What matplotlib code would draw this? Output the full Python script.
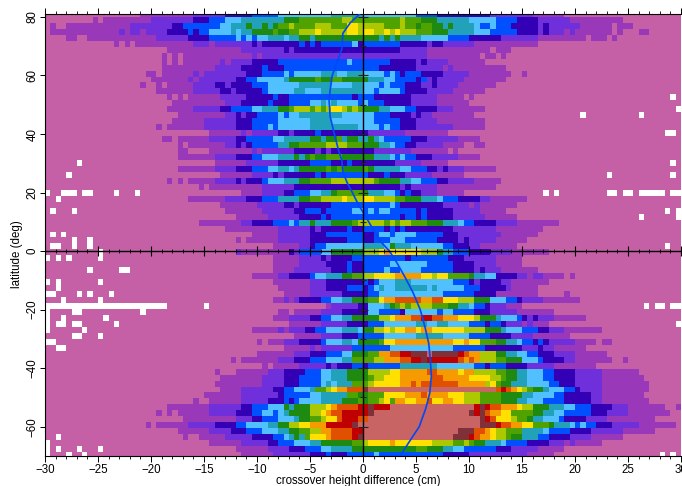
import numpy as np
import matplotlib
matplotlib.use("Agg")
import matplotlib.pyplot as plt
from matplotlib.colors import ListedColormap, BoundaryNorm

plt.rcParams['font.family'] = ['Liberation Sans', 'DejaVu Sans']

# colour classes of the crossover histogram (lowest to highest count)
class_colors = ['#C55FA6', '#9A38BA', '#6F30DC', '#3300B5', '#0050FF', '#50C0FF', '#22A2BA', '#1F8A10',
                '#4FA200', '#ABC800', '#FFE000', '#F59B00', '#E05000', '#C00000', '#803038', '#C86464']

# each row, from north to south: class, upper end (cm) of its run, class, upper end, ..., last class
rows = [
"0 -21 1 -16 2 -13 3 -10.5 4 -8 5 -3 6 0 5 5 4 7 3 12 2 16 1 19 0",
"0 -25.5 1 -25 0 -24.5 1 -20 2 -16 3 -14.5 4 -13 5 -11.5 6 -7.5 7 -6 8 -2 9 -1 8 3.5 9 4 8 5.5 7 7 6 10 5 12.5 4 14.5 3 16.5 2 19.5 1 24.5 0",
"0 -29.5 1 -29 0 -28 1 -22 2 -18 3 -17 4 -13.5 5 -12.5 6 -11 7 -10.5 6 -9.5 7 -9 6 -8.5 7 -8 8 -7 9 -6.5 8 -4.5 9 -3 8 -1.5 10 -0.5 9 2 8 3.5 9 4 8 5 7 5.5 8 6.5 7 7.5 6 8 7 8.5 6 10.5 5 11 4 12 5 12.5 4 14 3 16.5 2 17 3 17.5 2 20.5 1 23.5 0 24 1 25.5 0",
"0 -29.5 1 -23 2 -22.5 1 -22 2 -21 1 -20.5 2 -18.5 3 -16.5 4 -16 3 -15.5 4 -14.5 5 -12.5 6 -12 5 -11.5 6 -10.5 7 -8.5 8 -8 7 -7 8 -6 9 -4.5 10 -4 9 -1.5 10 -0.5 9 0 10 1 9 2 10 2.5 9 3 10 3.5 9 5 8 6.5 7 8 6 10.5 5 12 4 14.5 3 16.5 2 17 3 17.5 2 19 1 19.5 2 20 1 23.5 0 24 1 24.5 0 26 1 27 0",
"0 -28 1 -27 0 -26 1 -19.5 2 -16.5 3 -14.5 4 -12 5 -11.5 4 -11 5 -10.5 4 -10 5 -9 6 -7.5 5 -7 6 -6 7 -5 6 -4.5 7 1.5 6 2 7 2.5 6 3 7 3.5 6 5.5 5 8 4 10 3 13 2 16.5 1 21 0 21.5 1 23 0 23.5 1 24 0",
"0 -23.5 1 -23 0 -22.5 1 -22 0 -21.5 1 -16 2 -14.5 1 -14 2 -10.5 3 -10 2 -9.5 3 -6 4 -5.5 3 -5 4 -4.5 3 -4 4 -1 5 -0.5 3 0 4 3.5 3 6 2 6.5 3 7.5 2 10.5 1 16.5 0",
"0 -18.5 1 -11.5 2 -7.5 3 -7 2 -6.5 3 3.5 2 6 1 12 0 12.5 1 14 0",
"0 -19 1 -18.5 0 -18 1 -17.5 0 -17 1 -10.5 2 -10 1 -9.5 2 6 1 11 0 11.5 1 12.5 0 13 1 13.5 0",
"0 -19 1 -18.5 0 -18 1 -17.5 0 -17 1 -13.5 2 -13 1 -12.5 2 -10.5 3 -8 4 -1.5 5 -1 4 2.5 3 5 2 5.5 3 6 2 8 1 11.5 0",
"0 -19 1 -14 2 -11.5 3 -9.5 4 -9 3 -7.5 4 1.5 3 5 2 7.5 1 8 2 8.5 1 13.5 0",
"0 -20.5 1 -19.5 0 -19 1 -16 2 -15.5 1 -15 2 -11 3 -9.5 4 -7.5 5 -7 4 -6.5 5 -4 6 -2.5 5 -1.5 6 0 5 2 4 2.5 5 3 4 3.5 3 4 4 5.5 3 7.5 2 10 1 14 0 15 1 15.5 0",
"0 -20 1 -16.5 2 -16 1 -15.5 2 -12 3 -11 4 -10 5 -7.5 6 -7 7 -4.5 8 -4 7 -3 8 -2 7 0.5 6 2 5 3 4 5 3 5.5 4 6 2 6.5 3 7 2 9.5 1 13.5 0",
"0 -21 1 -20.5 0 -19.5 1 -19 0 -18.5 1 -16 2 -14 3 -13 2 -12.5 3 -10.5 4 -9 5 -6 6 -3 5 -1 6 0 5 1.5 4 2 5 2.5 4 4 3 5.5 2 6.5 3 7 2 9 1 12.5 0",
"0 -19.5 1 -16 2 -13.5 3 -12.5 2 -12 3 -9.5 4 -9 5 -6.5 6 -5.5 5 -4 6 0 5 1 4 1.5 5 3.5 4 4 3 6 2 8.5 1 11.5 0",
"0 -18.5 1 -18 0 -17.5 1 -17 0 -16.5 1 -13.5 2 -11 3 -8.5 4 -8 3 -7 4 -1 3 -0.5 4 1 3 4.5 2 7 1 9.5 0 10 1 10.5 0",
"0 -18 1 -13 2 -11.5 3 -9 4 -8.5 3 -7 4 -5 5 -4 6 -3.5 5 -3 6 -2.5 5 -0.5 4 0 5 0.5 4 2 3 4.5 2 7 1 10 0",
"0 -18.5 1 -16 2 -13.5 3 -12.5 4 -10.5 5 -9.5 6 -8 7 -7 8 -6.5 9 -5 8 -4.5 9 -4 8 -3.5 9 -3 10 -2 9 -1.5 8 -1 9 -0.5 8 0 7 1.5 6 2.5 5 4 4 5 3 7 2 8.5 1 11.5 0",
"0 -17.5 1 -13 2 -12 3 -11.5 2 -11 3 -10 4 -8 5 -7.5 4 -7 5 -6 6 -2 5 1 4 2.5 3 4.5 2 5 3 5.5 2 6.5 1 10.5 0",
"0 -18 1 -15 2 -12 3 -10.5 4 -8 5 -5 6 -3 5 1 4 3.5 3 5 2 7 1 11.5 0",
"0 -19.5 1 -19 0 -18.5 1 -15 2 -12 3 -10.5 4 -9 5 -8.5 4 -8 5 -5 6 -0.5 5 1.5 4 2 5 2.5 4 3.5 3 5 2 8.5 1 11.5 0",
"0 -14.5 1 -11.5 2 -11 1 -10.5 2 -8 3 -7 2 -6.5 3 -4.5 4 -4 3 0.5 2 4 1 8 0",
"0 -19 1 -18 0 -17.5 1 -14.5 2 -12 3 -11 4 -8.5 5 -7.5 6 -5 7 -4 6 -3.5 7 -2.5 8 -2 6 -1.5 7 -0.5 6 0.5 7 1 6 1.5 5 2 4 4.5 3 6 2 9 1 11 0",
"0 -17.5 1 -17 0 -16.5 1 -13 2 -12 3 -11.5 2 -11 3 -10.5 4 -8 6 -7 7 -6 8 -3.5 9 -1.5 8 0 7 1.5 6 2.5 5 3 4 4 3 5 2 7.5 1 9.5 0 10.5 1 11.5 0",
"0 -17.5 1 -16.5 0 -14.5 1 -10.5 2 -10 1 -9.5 2 -6.5 3 -4.5 2 -4 3 -3.5 2 -3 3 0.8 2 4.5 1 8 0 8.5 1 9 0",
"0 -17.5 1 -14 2 -12 3 -10.5 4 -9.5 5 -8 6 -6.5 7 -6 6 -5.5 7 -5 8 -4.5 7 -3.5 8 -2 7 0.8 6 2.5 5 3 4 3.5 5 4 4 5 3 6.5 2 9 1 11 0",
"0 -14 1 -11 2 -8 3 -5 4 -3 3 -1.5 4 -1 3 3 2 5.5 1 8 0",
"0 -17.5 1 -14 2 -12 3 -10.5 4 -9 5 -8 6 -7 5 -6.5 6 -6 7 -3.5 8 -3 7 -2.5 8 -2 7 0 8 0.5 7 1 6 3.5 5 4.5 4 6 3 7 2 7.5 3 8 2 9.5 1 12.5 0",
"0 -13.5 1 -10.5 2 -8.5 3 -8 2 -7.5 3 -4.5 4 -4 3 -3.5 4 0.5 3 2 4 2.5 3 4 2 6.5 1 9.5 0",
"0 -18.5 1 -18 0 -17.5 1 -17 0 -16.5 1 -14 2 -12 3 -11.5 2 -11 3 -9.5 4 -9 5 -7.5 6 -6 7 -5 8 -3 9 1 8 1.5 7 3.5 6 4.5 5 5.5 4 7 3 8 2 10.5 1 13 0",
"0 -15.5 1 -15 0 -14.5 1 -9.5 2 -6.5 3 3.5 2 4 3 4.5 2 7 1 12.5 0",
"0 -11.5 1 -9.5 2 -7.5 3 -6.5 4 -5 5 -4 6 -3 7 -2.5 8 0 7 0.5 6 2 5 3 4 3.5 3 4 4 4.5 3 5.5 2 7 1 9.5 0",
"0 -16.5 1 -13 2 -11 3 -9.5 4 -8 6 -6 7 -5 8 -4 9 -2 10 -1.5 9 0 10 0.8 9 2.8 8 4 7 5.5 6 7 5 7.5 4 9 3 11 2 12 1 15.5 0",
"0 -13.5 1 -10 2 -7.5 3 -6.5 2 -6 3 -3 4 2.3 5 2.8 4 3.5 3 7.5 2 10 1 10.5 2 11 1 14.5 0",
"0 -13 1 -9.5 2 -6.5 3 -5.5 4 -4 3 -3.5 4 -1.2 5 0 4 0.5 5 1 4 1.5 5 2.3 4 5 3 5.5 4 6 3 8.5 2 11 1 13.5 0",
"0 -12 1 -9 2 -6 3 -4 4 -3.5 3 -3 4 3.5 3 4 4 5 3 5.5 4 6 3 8.5 2 11.5 1 14.5 0",
"0 -15.5 1 -11.5 2 -10.5 3 -8.5 4 -7 5 -6.5 4 -6 6 -5 7 -4.5 6 -3 7 -1.2 8 -0.7 9 2 8 2.5 9 3 8 3.5 9 4.5 8 6 7 7.5 6 9 5 9.5 4 10.5 3 12.5 2 14.5 1 18.5 0",
"0 -13 1 -8 2 -5 3 -4.5 2 -4 3 -1.5 4 -1.2 3 0 4 2 3 2.5 4 3 3 3.5 4 4 3 8.5 2 12.5 1 17 0",
"0 -10.5 1 -8 2 -5 3 -3.5 4 0 3 0.8 4 1.3 5 2.3 4 2.8 5 5 4 7.5 3 9 2 13 1 16.5 0",
"0 -12 1 -11.5 0 -11 1 -8 2 -5 3 -1.5 4 0 3 0.8 4 2.3 5 4 4 7 3 9 2 9.5 3 10 2 12.5 1 15.5 0",
"0 -8.5 1 -6 2 -5 3 -4.5 4 -3.5 5 0 6 2 5 2.5 7 3 6 4.5 5 7.5 4 8.5 3 10 2 11 1 14.5 0",
"0 -12 2 -11.5 1 -7 3 -6.5 2 -6 4 -4 5 -3 7 0 9 1.3 10 1.8 11 2.3 10 5.5 9 7 7 7.5 6 8.5 4 10 3 12 2 14 1 17.5 0",
"0 -8.5 1 -6 2 -4 3 -3.5 2 -3 3 -1 4 4 3 4.5 4 8 3 9.5 2 12.5 1 15 0",
"0 -8.5 1 -6 2 -3.5 3 -1.5 4 -1.2 3 0 4 2.3 5 6 4 8.5 3 10.5 2 12.5 1 15 0",
"0 -8.5 1 -6.5 2 -3 3 -1.5 4 -1 3 0 4 2 5 2.5 4 3.5 5 5.5 4 8.5 3 10.5 2 11 3 11.5 2 13 1 16.5 0",
"0 -10.5 1 -8 2 -7 3 -5 4 -4.5 5 -3.5 6 -2 7 -1 8 0 9 0.8 10 2.8 11 5.5 10 6.5 9 7 10 8 8 10 7 10.5 6 11.5 5 12.5 3 14.5 2 15.5 1 16 2 17 1 19 0 19.5 1 20 0",
"0 -8.5 1 -5 2 -3.5 3 0 4 0.5 3 1 4 1.5 5 2.8 6 4.5 5 8.5 4 10 3 10.5 2 11 3 13 2 14 1 17.5 0",
"0 -8 1 -5 2 -3.5 3 -1.5 4 0 3 0.5 4 1 5 1.5 6 2 5 2.8 6 5.8 5 6.5 6 7 5 9.5 4 11 3 13.5 2 14 1 16.5 0",
"0 -7.5 1 -5 2 -2 3 0.5 4 1.5 5 7.5 4 10.5 3 12.5 1 16.5 0 19 1 19.5 0",
"0 -8.5 1 -7.5 2 -7 1 -6.5 2 -6 3 -4 4 -3 5 -2 6 -1 7 0.5 8 1.5 10 2 11 2.8 12 5.5 11 6.5 12 7.5 10 9 9 10.5 7 12 5 13.5 4 14.5 3 15 2 17 1 20.5 0",
"0 -3.5 1 -3 2 -0.7 3 0.5 5 2 6 2.5 7 3 8 3.5 9 4 8 4.5 9 6.5 8 8 7 9 6 10 5 10.5 4 11.5 3 12 2 13.5 1 15 0",
"0 -8 1 -7 0 -6.5 1 -4 2 -2 3 0.5 5 1.3 4 3.3 3 3.8 5 7 4 7.5 5 8.5 4 10.5 3 12 2 14.5 1 18 0 19 1 19 0",
"0 -8.5 1 -7 2 -5 3 -4 4 -3 5 -2 6 -1 7 1.3 9 2.3 10 2.8 11 4.5 12 5.5 13 6.5 12 7.5 11 9 10 10.5 9 11 7 12.5 6 13 5 14.5 4 15 3 15.5 2 16 3 16.5 2 18 1 21 0",
"0 -7 1 -4 2 -1.5 3 0.5 4 2 5 5 6 6 5 7 6 8 5 10 4 11.5 3 12 4 13 3 13.5 2 15 1 15.5 2 16 1 17.5 0",
"0 -10.5 1 -8 2 -7.5 1 -7 2 -5.5 3 -4.5 4 -3.5 5 -2 6 -0.5 5 0 7 0.8 9 1.8 10 2.3 9 2.8 10 4 11 5 10 5.5 11 6.3 10 7.5 10 9.5 9 11.5 7 13 6 13.5 5 15 4 16.5 3 17.5 2 19 1 22.5 0",
"0 -6.5 1 -4 2 -2 3 -0.7 4 2 5 5 6 7.5 5 10 4 12 3 14 2 16 1 19.5 0",
"0 -10 1 -9.5 0 -9 1 -7.5 2 -6 3 -4 4 -3.5 5 -2 6 -1.2 5 -0.7 7 1.3 8 1.8 10 2.8 11 8.5 10 9.5 11 10 10 11 8 12.5 7 13.5 6 14.5 5 15 4 16 3 16.5 4 17 3 17.5 2 20 1 22 0 22.5 1 23.5 0",
"0 -7.5 1 -5 2 -4.5 1 -4 2 -1.2 4 2.3 5 8.5 4 11.5 3 15 2 16.5 3 17 2 18 1 21 0",
"0 -10 1 -6.5 2 -5 3 -3.5 4 -2 5 -1.2 7 0.5 8 1.3 11 2.3 12 3.5 13 4.5 14 6 15 6.5 14 9 13 9.5 12 10 11 11 9 12.5 7 13.5 6 14.5 5 15.5 4 16.5 3 18 2 20 1 23 0",
"0 -12.5 1 -12 0 -11.5 1 -8 2 -6.5 3 -5 4 -3.5 5 -2 6 -1.2 8 0.8 9 1.8 11 3.5 12 4.5 13 5.5 14 6 13 9 12 9.5 11 10 12 10.5 11 11 9 12.5 8 13.5 7 15 5 16.5 4 17 3 19 2 20 1 23.5 0 24.5 1 25 0",
"0 -9.5 1 -9 0 -8.5 1 -6 2 -3.5 3 -3 2 -2.5 3 -1.2 4 0 3 0.5 4 3.3 6 7 5 10.5 4 11.5 3 12 4 13.5 3 15.5 2 18 1 22 0",
"0 -14 1 -13.5 0 -12 1 -9 2 -7.5 3 -5.5 4 -4 5 -3 6 -1.5 7 0.5 9 2.3 10 3.5 11 5.8 12 7 11 9 10 9.5 11 10.5 9 12.5 8 13.5 7 14.5 6 15.5 5 17 4 18 3 20 2 22.5 1 26 0",
"0 -13.5 1 -9.5 2 -7.5 3 -6 4 -4 5 -3 6 -1.5 7 0.5 8 1 9 2 10 3.5 11 6.5 12 7.5 11 10 10 12 9 13 8 13.5 7 14.5 6 15.5 5 17 4 18 3 20 2 22.5 1 26.5 0",
"0 -14 1 -9.5 2 -7.5 3 -6 4 -4 5 -3.5 6 -3 5 -2.5 6 -1.2 8 0.5 9 1 10 3.5 11 4.5 12 5 11 5.5 12 9 11 11.5 9 12 10 12.5 8 13 7 14 6 15.5 5 17.5 4 18.5 3 20 2 22.5 1 27 0",
"0 -13.5 1 -11.5 2 -8.5 3 -7.5 4 -6.5 5 -5 6 -4.5 8 -3.5 9 -3 10 -2.5 11 -1.5 12 0 14 0.5 15 12.5 12 13 13 13.5 12 14 11 14.5 10 15 9 15.5 8 16 7 17 6 17.5 5 19 4 20 3 20.5 2 22.5 1 27 0",
"0 -15 1 -11.5 2 -8 3 -7.5 4 -5 5 -4 6 -1.5 8 -0.7 7 0.5 8 2 10 3.8 11 5.5 12 6 11 8 10 9.5 9 11 8 13 7 15 6 16 5 18 4 19 3 21.5 2 22.5 1 26.5 0 27 1 27 0",
"0 -16 1 -15.5 0 -14.5 1 -11.5 2 -9 3 -7.5 4 -7 3 -6.5 4 -6 5 -4 6 -2 7 -0.7 8 0 7 0.5 8 1.3 9 1.8 10 2.3 8 2.8 11 3.8 10 5 11 5.8 12 6.3 10 7.5 11 8.5 10 9.5 9 11 8 13 7 14.5 6 15.5 5 17 4 19 3 21.5 2 22.5 1 27 0",
"0 -18.5 1 -14.5 2 -11.5 3 -10.5 4 -9 5 -7.5 7 -7 6 -6.5 7 -5 9 -3.5 10 -3 11 -2.5 12 -0.7 13 0.3 14 0.8 13 2.3 15 10.5 13 11 14 11.5 13 12 12 13 11 14.5 10 15 9 16 7 17.5 6 19 5 20 4 21.5 3 23.5 2 25 1 28.5 0 29.5 1",
"0 -19.5 1 -19 0 -18.5 1 -18 0 -17.5 1 -14.5 2 -12 3 -10.5 4 -9.5 5 -8.5 4 -8 5 -7.5 6 -7 7 -5 9 -4 10 -3.5 11 -3 12 -2 13 0.3 14 0.8 15 10.2 14 10.5 15 9.5 13 11 14 11.5 12 12 11 13 10 14 8 16 7 17 6 18 5 19 4 21.5 3 23 2 25 1 29 0",
"0 -17 1 -12 2 -10.5 3 -9.5 4 -8 5 -6.5 6 -6 7 -5 8 -4 9 -3.5 10 -2.5 12 -2 13 -0.7 12 0.3 15 11 14 11.5 13 12 12 12.5 10 14 9 14.5 8 15.5 7 16 6 17 5 18.5 4 19 3 21 2 23 1 27.5 0",
"0 -20.5 1 -20 0 -19.5 1 -16.5 2 -14 3 -12 4 -11 5 -9 6 -8 7 -7 9 -6 10 -5 11 -3.5 13 -1 14 -0.7 15 11 14 12.5 13 13 12 14 11 15 10 16 8 17.5 7 18 6 19.5 5 20 4 20.5 5 21 4 22 3 23.5 2 26 1 29.5 0",
"0 -17.5 1 -14.5 2 -12.5 3 -11 4 -9.5 5 -8 6 -7 7 -6 8 -5 9 -4 11 -3 12 -1.2 13 -0.2 15 9 14 10.5 12 11.5 11 12 10 12.5 9 13.5 8 15 6 17 5 17.5 4 19.5 3 21.5 2 24.5 1 27.5 0",
"0 -17 1 -16.5 0 -15.5 1 -13 2 -10.5 3 -8.5 4 -7.5 5 -7 6 -6.5 7 -6 6 -5.5 8 -5 10 -3.5 11 -3 12 -1.2 13 -0.7 14 -0.2 15 8.5 14 10 13 10.5 12 11 11 12 10 12.5 9 13.5 8 14 7 15 6 16.5 4 17.5 3 19.5 2 21.5 1 24.5 0",
"0 -14.5 1 -11.5 2 -9 3 -8 4 -6.5 5 -5 6 -4 7 -1.2 8 -0.2 9 0.3 10 2.3 11 2.8 10 6.5 9 8.5 8 9.5 9 10 8 10.5 7 11.5 6 13 5 13.5 4 15.5 3 17.5 2 19 1 19.5 2 20 1 22.5 0",
"0 -12 1 -9 2 -7 3 -5.5 4 -4 5 -3 6 -1.2 7 5 8 6 7 7.5 6 8.5 5 9.5 4 12.5 3 14 2 16.5 1 19 0",
"0 -11.5 1 -8.5 2 -5 3 -3.5 4 -3 3 -1.5 4 0.8 5 1.3 4 7.5 3 10 2 15.5 1 18 0",
]

# cells with no data: row number from the top, west edge (cm), east edge (cm)
blank_cells = [
(24, -27, -26.5), (26, -28, -27.5), (29, -30, -29.5), (29, -28.5, -27), (29, -26.5, -25.5), (29, -23.5, -23),
(29, -21.5, -21), (30, -29, -28.5), (32, -29.5, -29), (32, -27.5, -27), (36, -29.5, -29), (36, -28.5, -28),
(37, -27.5, -27), (37, -26, -25.5), (38, -29.5, -28.5), (38, -27.5, -27), (38, -26, -25.5), (39, -25, -24.5),
(40, -30, -29.5), (40, -29, -28.5), (40, -28, -27.5), (40, -25, -24.5), (42, -26, -25.5), (42, -23, -22),
(44, -30, -29.5), (44, -29, -28.5), (44, -25, -24.5), (45, -29, -28.5), (46, -30, -29), (46, -27, -26.5),
(46, -26, -25.5), (46, -24, -23.5), (47, -28.5, -28), (47, -25, -24.5), (48, -30, -18.5), (48, -15, -14.5),
(49, -30, -29.5), (49, -27.5, -26.5), (49, -21, -20.5), (50, -30, -29.5), (50, -28.5, -28), (50, -24.5, -24),
(51, -30, -29.5), (51, -29, -28), (51, -27.5, -26.5), (51, -23.5, -23), (52, -30, -29.5), (52, -26.5, -26),
(53, -27.5, -26.5), (53, -25, -24.5), (54, -30, -29), (55, -29, -28), (70, -29, -28.5), (71, -30, -29.5),
(72, -30, -29.5), (72, -29, -28.5), (72, -27, -26.5), (72, -25, -24.5), (73, -30, -29.5), (73, -28, -27.5),
(73, -26.5, -26),
(13, 29, 29.5), (15, 29.5, 30), (16, 20.5, 21), (16, 26, 26.5), (19, 28.5, 29.5), (24, 29, 29.5), (26, 23, 23.5),
(26, 29, 29.5), (29, 17, 17.5), (29, 18, 18.5), (29, 23, 24), (29, 24.5, 25.5), (29, 26, 28.5), (29, 29, 30),
(32, 28.5, 29), (32, 29.5, 30), (33, 26, 26.5), (33, 29.5, 30), (38, 28.5, 29), (48, 26.5, 27), (48, 27.5, 28.5),
(48, 29, 30), (51, 29.5, 30), (73, 28, 28.5), (73, 29, 29.5),
]

# mean crossover difference curve
curve_lat = [81, 78, 74.4, 69, 64, 60, 55, 51.5, 46, 40, 35, 31, 27, 23, 20, 16, 12.7, 9, 6, 2.7, 0, -4, -8.5, -14, -20,
             -26, -31.5, -37, -42.8, -48.5, -54, -60, -65.5, -70]
curve_cm = [-0.3, -1.2, -1.9, -2.0, -2.5, -2.9, -3.1, -3.2, -3.1, -2.7, -2.35, -2.0, -1.9, -1.45, -1.0, -0.45, 0.1, 0.7, 1.2,
            1.8, 2.5, 3.2, 3.9, 4.7, 5.4, 5.85, 6.2, 6.35, 6.45, 6.3, 5.9, 5.3, 4.3, 3.5]

xticks = [-30, -25, -20, -15, -10, -5, 0, 5, 10, 15, 20, 25, 30]
yticks = [-60, -40, -20, 0, 20, 40, 60, 80]
x_minor = list(range(-30, 31))
cross_major = [-60, -40, -20, 20, 40, 60, 80]
cross_minor = [-50, -30, -10, 10, 30, 50, 70]

col_edges = np.arange(-30, 30.25, 0.5)
row_edges = np.linspace(82.04, -70.7, len(rows) + 1)

grid = np.zeros((len(rows), len(col_edges) - 1))
centres = 0.5 * (col_edges[:-1] + col_edges[1:])
for i, row in enumerate(rows):
    parts = row.split()
    start = -30.0
    for j in range(0, len(parts), 2):
        end = float(parts[j + 1]) if j + 1 < len(parts) else 30.0
        end = max(end, start)
        grid[i, (centres >= start) & (centres < end)] = int(parts[j])
        start = end
for k, west, east in blank_cells:
    grid[k + 1, (centres >= west) & (centres < east)] = np.nan

fig = plt.figure(figsize=(6.82, 4.86), dpi=100)
ax = fig.add_axes([45 / 682, 30 / 486, 636 / 682, 442 / 486])
cmap = ListedColormap(class_colors)
cmap.set_bad('white')
norm = BoundaryNorm(np.arange(-0.5, 16.5), 16)
ax.pcolormesh(col_edges, row_edges, np.ma.masked_invalid(grid), cmap=cmap, norm=norm, rasterized=True)

ax.plot(curve_cm, curve_lat, color='#0048F8', lw=1.2, zorder=3)

ax.axvline(0, color='black', lw=1.0, zorder=4)
ax.axhline(0, color='black', lw=1.0, zorder=4)
ax.plot(xticks, [0] * len(xticks), '|', color='black', ms=6.5, mew=0.8, zorder=4, clip_on=True)
ax.plot(x_minor, [0] * len(x_minor), '|', color='black', ms=3, mew=0.6, zorder=4)
ax.plot([0] * len(cross_major), cross_major, '_', color='#222222', ms=7, mew=0.8, zorder=4)
ax.plot([0] * len(cross_minor), cross_minor, '_', color='#222222', ms=4, mew=0.8, zorder=4)

ax.set_xlim(-30, 30)
ax.set_ylim(-70, 81)
ax.set_xticks(xticks)
ax.set_xticks(x_minor, minor=True)
ax.set_yticks(yticks)
ax.set_xticklabels(['\u2212' + str(-v) if v < 0 else str(v) for v in xticks])
ax.set_yticklabels(['\u2212' + str(-v) if v < 0 else str(v) for v in yticks], rotation=90, va='center')
ax.tick_params(axis='x', which='major', top=True, direction='out', length=4.5, width=0.7, labelsize=8.3, pad=1.5)
ax.tick_params(axis='x', which='minor', top=True, direction='out', length=2.3, width=0.6)
ax.tick_params(axis='y', which='major', direction='out', length=3.5, width=0.7, labelsize=8.3, pad=1)
ax.spines['right'].set_visible(False)
for s in ['left', 'top', 'bottom']:
    ax.spines[s].set_linewidth(0.8)
fig.text(358 / 682, 1 - 481 / 486, 'crossover height difference (cm)', ha='center', va='center', fontsize=8.3)
fig.text(17 / 682, 1 - 254 / 486, 'latitude (deg)', ha='center', va='center', rotation=90, fontsize=8.3)

fig.savefig('out.png', dpi=100)
